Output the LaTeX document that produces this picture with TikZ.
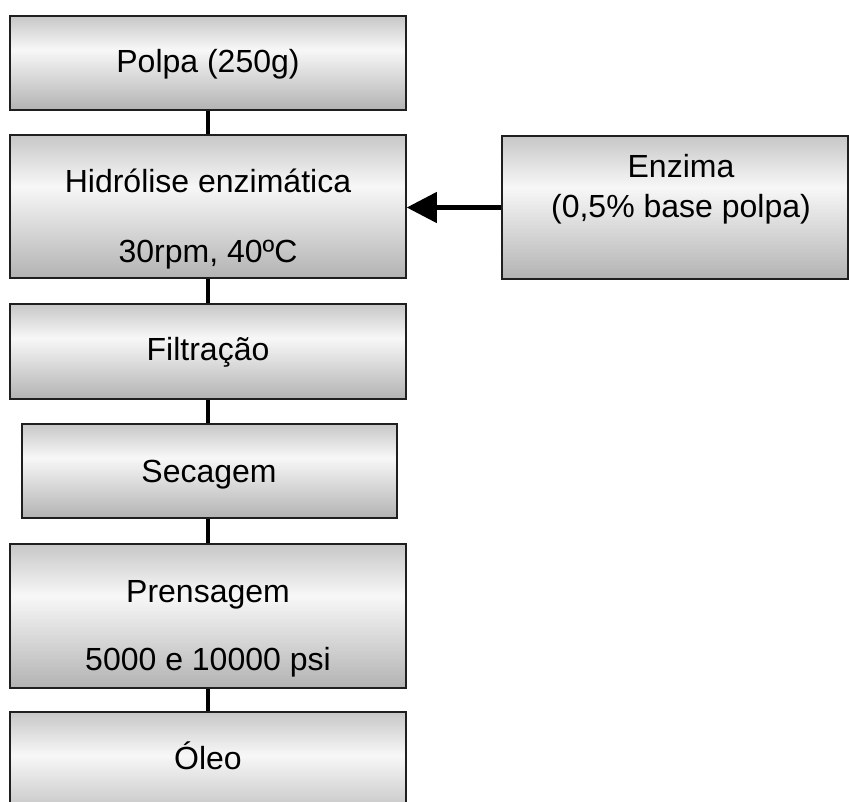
\documentclass[tikz,border=0pt]{standalone}
\usepackage{fontspec}
\setmainfont{Liberation Sans}
\usetikzlibrary{arrows.meta}
\definecolor{bxbot}{gray}{0.70}
\definecolor{bxmid}{gray}{0.97}
\definecolor{bxtop}{gray}{0.78}
\definecolor{bxline}{gray}{0.12}
\pgfdeclareverticalshading{boxshade}{100bp}{color(0bp)=(bxbot); color(25bp)=(bxbot); color(57bp)=(bxmid); color(75bp)=(bxtop); color(100bp)=(bxtop)}
\tikzset{
  procbox/.style={draw=bxline, line width=1.5pt, shading=boxshade, rectangle, inner sep=0pt},
  txt/.style={inner sep=0pt, anchor=base, text=black},
  conn/.style={line width=4.5pt, black},
  arr/.style={line width=4.5pt, black, -{Triangle[length=30pt, width=30pt]}}
}
\begin{document}
\begin{tikzpicture}[x=1pt, y=-1pt, font=\fontsize{32}{38}\selectfont]
\clip (0,0) rectangle (849,801);
\fill[white] (0,0) rectangle (849,801);
% boxes
\node[procbox, minimum width=396pt, minimum height=94pt] (polpa) at (208,63) {};
\node[procbox, minimum width=396pt, minimum height=143pt] (hid) at (208,206.5) {};
\node[procbox, minimum width=346pt, minimum height=143pt] (enz) at (675,207.5) {};
\node[procbox, minimum width=396pt, minimum height=95pt] (fil) at (208,351.5) {};
\node[procbox, minimum width=375pt, minimum height=94pt] (sec) at (209.5,471) {};
\node[procbox, minimum width=396pt, minimum height=144pt] (pren) at (208,616) {};
\node[procbox, minimum width=396pt, minimum height=120pt] (oleo) at (208,772) {};
% connectors
\draw[conn] (polpa.south) -- (hid.north);
\draw[conn] (hid.south) -- (fil.north);
\draw[conn] (fil.south) -- (fil.south |- sec.north);
\draw[conn] (fil.south |- sec.south) -- (pren.north);
\draw[conn] (pren.south) -- (oleo.north);
\draw[arr] (enz.west) -- (enz.west -| hid.east);
% texts
\node[txt] (tpolpa) at (208,72) {Polpa (250g)};
\node[txt] (thid1) at (208,192) {Hidrólise enzimática};
\node[txt] (thid2) at (208,262) {30rpm, 40ºC};
\node[txt] (tenz1) at (681,177) {Enzima};
\node[txt] (tenz2) at (681,217) {(0,5\% base polpa)};
\node[txt] (tfil) at (208,360) {Filtração};
\node[txt] (tsec) at (209,482) {Secagem};
\node[txt] (tpren1) at (208,602) {Prensagem};
\node[txt] (tpren2) at (208,670) {5000 e 10000 psi};
\node[txt] (toleo) at (208,769) {Óleo};
\end{tikzpicture}
\end{document}
